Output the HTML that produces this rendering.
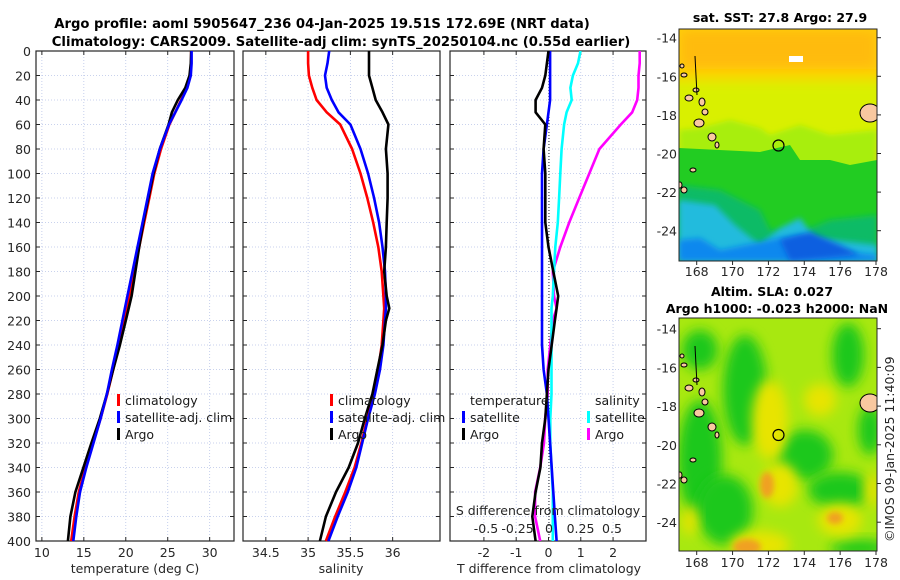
<!DOCTYPE html>
<html><head><meta charset="utf-8">
<style>
body{margin:0;background:#fff;}
svg{display:block;font-family:"DejaVu Sans","Liberation Sans",sans-serif;}
</style></head>
<body>
<svg id="fig" width="900" height="580" viewBox="0 0 900 580" xmlns="http://www.w3.org/2000/svg">
<defs>
<filter id="blur6" x="-50%" y="-50%" width="200%" height="200%"><feGaussianBlur stdDeviation="6"/></filter>
<filter id="blur3" x="-50%" y="-50%" width="200%" height="200%"><feGaussianBlur stdDeviation="3"/></filter>
<clipPath id="m1clip"><rect x="679" y="29" width="198" height="232"/></clipPath>
<clipPath id="m2clip"><rect x="679" y="318" width="198" height="233"/></clipPath>
<clipPath id="p3clip"><rect x="450" y="51" width="196" height="490"/></clipPath>
</defs>
<text x="322" y="28" font-size="13.2" font-weight="bold" text-anchor="middle">Argo profile: aoml 5905647_236 04-Jan-2025 19.51S 172.69E (NRT data)</text>
<text x="341" y="46" font-size="13.2" font-weight="bold" text-anchor="middle">Climatology: CARS2009. Satellite-adj clim: synTS_20250104.nc (0.55d earlier)</text>
<g id="panels"></g>
<g id="maps"></g>
</svg>
<script>
// ---- data ----
const depths = [0,10,20,30,40,50,60,80,100,120,140,160,180,200,210,220,240,260,280,300,320,340,360,380,400];
const tClim  = [27.8,27.8,27.7,27.3,26.6,25.9,25.2,24.2,23.4,22.8,22.2,21.6,21.0,20.4,20.1,19.8,19.2,18.5,17.8,17.0,16.1,15.2,14.4,13.9,13.5];
const tSat   = [27.85,27.85,27.75,27.35,26.65,25.9,25.15,24.05,23.2,22.6,22.0,21.4,20.8,20.2,19.9,19.6,19.0,18.35,17.75,17.0,16.15,15.3,14.55,14.1,13.75];
const tArgo  = [27.8,27.75,27.6,27.1,26.2,25.5,25.1,24.05,23.3,22.7,22.1,21.6,21.15,20.7,20.35,20.0,19.3,18.5,17.75,16.9,15.9,14.95,14.0,13.4,13.1];
const sClim  = [35.00,35.00,35.01,35.05,35.10,35.22,35.38,35.52,35.62,35.70,35.77,35.83,35.87,35.89,35.90,35.89,35.87,35.83,35.77,35.70,35.63,35.55,35.44,35.32,35.21];
const sSat   = [35.25,35.23,35.20,35.22,35.28,35.36,35.50,35.62,35.71,35.78,35.84,35.88,35.91,35.92,35.92,35.91,35.89,35.85,35.79,35.71,35.64,35.57,35.47,35.35,35.24];
const sArgo  = [35.72,35.72,35.72,35.76,35.80,35.88,35.95,35.92,35.94,35.94,35.93,35.92,35.90,35.93,35.96,35.92,35.88,35.82,35.76,35.67,35.59,35.48,35.33,35.21,35.14];
const depthTicks = [0,20,40,60,80,100,120,140,160,180,200,220,240,260,280,300,320,340,360,380,400];
const tTicks = [10,15,20,25,30];
const sTicks = [34.5,35,35.5,36];
const tdTicks = [-2,-1,0,1,2];
const sdTicks = [-0.5,-0.25,0,0.25,0.5];
const sdTickLabels = ["-0.5","-0.25","0","0.25","0.5"];
const lonTicks = [168,170,172,174,176,178];
const latTicks = [-14,-16,-18,-20,-22,-24];

const NS="http://www.w3.org/2000/svg";
const fig=document.getElementById('panels');
function el(tag,attrs,parent){const e=document.createElementNS(NS,tag);for(const k in attrs)e.setAttribute(k,attrs[k]);(parent||fig).appendChild(e);return e;}
function txt(x,y,s,attrs,parent){const e=el('text',Object.assign({x:x,y:y,'font-size':12.5,fill:'#262626'},attrs||{}),parent);e.textContent=s;return e;}

const Y0=51,Y1=541;
const yD=d=>Y0+(d/400)*(Y1-Y0);
const panels=[
 {x0:36,x1:234,min:9.3,max:32.9,name:'temperature'},
 {x0:243,x1:440,min:34.23,max:36.56,name:'salinity'},
 {x0:450,x1:646,min:-3.05,max:3.02,name:'difference'}
];
function xf(p,v){return p.x0+(v-p.min)/(p.max-p.min)*(p.x1-p.x0);}
const sdScale=v=>549+v*126;

function gridAndFrame(p,ticks,name){
  const g=el('g',{});
  
  
  depthTicks.forEach(d=>{el('line',{x1:p.x0,x2:p.x1,y1:yD(d),y2:yD(d),stroke:'#b8c4e8','stroke-width':0.8,'stroke-dasharray':'1,2'},g);});
  ticks.forEach(t=>{el('line',{x1:xf(p,t),x2:xf(p,t),y1:Y0,y2:Y1,stroke:'#b8c4e8','stroke-width':0.8,'stroke-dasharray':'1,2'},g);
    el('line',{x1:xf(p,t),x2:xf(p,t),y1:Y1,y2:Y1-4,stroke:'#262626'},g);el('line',{x1:xf(p,t),x2:xf(p,t),y1:Y0,y2:Y0+4,stroke:'#262626'},g);});
  depthTicks.forEach(d=>{el('line',{x1:p.x0,x2:p.x0+4,y1:yD(d),y2:yD(d),stroke:'#262626'},g);el('line',{x1:p.x1,x2:p.x1-4,y1:yD(d),y2:yD(d),stroke:'#262626'},g);});
  el('rect',{x:p.x0,y:Y0,width:p.x1-p.x0,height:Y1-Y0,fill:'none',stroke:'#262626','stroke-width':1.2},g);
  return g;
}
function pline(pts,color,name,w,clip){
  const e=el('polyline',{points:pts.map(p=>p[0].toFixed(1)+','+p[1].toFixed(1)).join(' '),fill:'none',stroke:color,'stroke-width':w||2.6,'stroke-linejoin':'round'});
  if(clip)e.setAttribute('clip-path','url(#p3clip)');
  
  
  return e;
}
// Panel 1
const p1=panels[0];
gridAndFrame(p1,tTicks,'temperature');
depthTicks.forEach(d=>txt(31,yD(d)+5,String(d),{'text-anchor':'end'}));
tTicks.forEach(t=>txt(xf(p1,t),557,String(t),{'text-anchor':'middle'}));
txt(135,573,'temperature (deg C)',{'text-anchor':'middle'});
pline(depths.map((d,i)=>[xf(p1,tClim[i]),yD(d)]),'#ff0000','temperature-climatology-line');
pline(depths.map((d,i)=>[xf(p1,tArgo[i]),yD(d)]),'#000000','temperature-argo-line');
pline(depths.map((d,i)=>[xf(p1,tSat[i]),yD(d)]),'#0000ff','temperature-satellite-line');
// Panel 2
const p2=panels[1];
gridAndFrame(p2,sTicks,'salinity');
sTicks.forEach(t=>txt(xf(p2,t),557,String(t),{'text-anchor':'middle'}));
txt(341,573,'salinity',{'text-anchor':'middle'});
pline(depths.map((d,i)=>[xf(p2,sClim[i]),yD(d)]),'#ff0000','salinity-climatology-line');
pline(depths.map((d,i)=>[xf(p2,sSat[i]),yD(d)]),'#0000ff','salinity-satellite-line');
pline(depths.map((d,i)=>[xf(p2,sArgo[i]),yD(d)]),'#000000','salinity-argo-line');
// Panel 3
const p3=panels[2];
gridAndFrame(p3,tdTicks,'difference');
el('line',{x1:549,x2:549,y1:Y0,y2:Y1,stroke:'#333','stroke-width':1,'stroke-dasharray':'1,2'});
tdTicks.forEach(t=>txt(xf(p3,t),557,String(t),{'text-anchor':'middle'}));
txt(549,573,'T difference from climatology',{'text-anchor':'middle'});
pline(depths.map((d,i)=>[sdScale(sArgo[i]-sClim[i]),yD(d)]),'#ff00ff','salinity-argo-diff-line',2.6,true);
pline(depths.map((d,i)=>[sdScale(sSat[i]-sClim[i]),yD(d)]),'#00ffff','salinity-satellite-diff-line',2.6,true);
pline(depths.map((d,i)=>[xf(p3,tSat[i]-tClim[i]),yD(d)]),'#0000ff','temperature-satellite-diff-line',2.6,true);
pline(depths.map((d,i)=>[xf(p3,tArgo[i]-tClim[i]),yD(d)]),'#000000','temperature-argo-diff-line',2.6,true);
txt(548,515,'S difference from climatology',{'text-anchor':'middle'});
sdTicks.forEach((t,i)=>txt(sdScale(t),533,sdTickLabels[i],{'text-anchor':'middle'}));

// Legends
function legend(x,y,items,name){
  const g=el('g',{});
  
  
  items.forEach((it,i)=>{
    if(it[1]) el('rect',{x:x,y:y+i*17-11,width:3,height:12,fill:it[1]},g);
    txt(x+(it[1]?8:0),y+i*17,it[0],{fill:'#1a1a1a'},g);
  });
}
legend(117,405,[['climatology','#ff0000'],['satellite-adj. clim','#0000ff'],['Argo','#000000']],'temperature-legend');
legend(330,405,[['climatology','#ff0000'],['satellite-adj. clim','#0000ff'],['Argo','#000000']],'salinity-legend');
legend(470,405,[['temperature',null]],'diff-legend-temp-title');
legend(462,422,[['satellite','#0000ff'],['Argo','#000000']],'diff-legend-temp');
legend(595,405,[['salinity',null]],'diff-legend-sal-title');
legend(587,422,[['satellite','#00ffff'],['Argo','#ff00ff']],'diff-legend-sal');

// ---- maps ----
const mg=document.getElementById('maps');
function mel(tag,attrs,parent){return el(tag,attrs,parent||mg);}
const lonX=l=>696.7+(l-168)*17.93;
function mapAxes(top,latY,name){
  const g=mel('g',{});
  
  
  lonTicks.forEach(l=>{txt(lonX(l),top===29?276:567,String(l),{'text-anchor':'middle'},g);
    const yb=top===29?261:551;
    el('line',{x1:lonX(l),x2:lonX(l),y1:yb,y2:yb+4,stroke:'#262626'},g);});
  latTicks.forEach(la=>{txt(677,latY(la)+5,String(la),{'text-anchor':'end'},g);
    el('line',{x1:877,x2:881,y1:latY(la),y2:latY(la),stroke:'#262626'},g);});
}
const islands=[[682,66,2,2],[684,75,3,2],[696,90,3,2],[689,98,4,3],[702,102,3,4],[705,112,3,3],[699,123,5,4],[712,137,4,4],[717,145,2,3],[693,170,3,2],[680,185,2,3],[684,190,3,3],[870,113,10,9]];
function drawIslands(g,dy){
  islands.forEach(c=>el('ellipse',{cx:c[0],cy:c[1]+dy,rx:c[2],ry:c[3],fill:'#f8c8a0',stroke:'#000','stroke-width':1},g));
  el('line',{x1:695,y1:56+dy,x2:697,y2:95+dy,stroke:'#000','stroke-width':1},g);
}
// Map 1 SST
const lat1=la=>37.7+(-14-la)*19.3;
const m1=mel('g',{'clip-path':'url(#m1clip)'});


el('rect',{x:679,y:29,width:198,height:232,fill:'#ffd400'},m1);
el('rect',{x:679,y:29,width:198,height:40,fill:'#ffbb10',filter:'url(#blur6)'},m1);
el('polygon',{points:'660,80 900,80 900,150 660,150',fill:'#d9f000',filter:'url(#blur6)'},m1);
el('polygon',{points:'679,130 700,128 730,120 760,128 770,135 800,125 830,135 877,130 877,200 679,200',fill:'#a8ee10',filter:'url(#blur3)'},m1);
el('polygon',{points:'679,148 760,152 790,145 800,160 830,160 850,165 877,160 877,261 679,261',fill:'#22cc22'},m1);
el('polygon',{points:'679,185 720,190 740,200 760,210 770,230 800,232 830,220 877,215 877,261 679,261',fill:'#10bb66',filter:'url(#blur3)'},m1);
el('polygon',{points:'679,200 715,205 735,225 760,245 780,228 800,218 815,238 877,245 877,261 679,261',fill:'#22bbdd',filter:'url(#blur3)'},m1);
el('polygon',{points:'679,240 700,238 720,250 780,238 800,235 830,250 877,255 877,261 679,261',fill:'#1188ee',filter:'url(#blur3)'},m1);
el('polygon',{points:'780,240 810,232 840,245 860,255 790,261',fill:'#0a5fe0',filter:'url(#blur3)'},m1);
el('rect',{x:789,y:56,width:14,height:6,fill:'#fff'},m1);
drawIslands(m1,0);
el('circle',{cx:778.5,cy:145.5,r:5.5,fill:'none',stroke:'#000','stroke-width':1.2},m1);
el('rect',{x:679,y:29,width:198,height:232,fill:'none',stroke:'#262626','stroke-width':1},mg);
txt(780,22,'sat. SST: 27.8 Argo: 27.9',{'text-anchor':'middle','font-weight':'bold',fill:'#000'});
mapAxes(29,lat1,'sst-map');
// Map 2 SLA
const lat2=la=>328.7+(-14-la)*19.35;
const m2=mel('g',{'clip-path':'url(#m2clip)'});


el('rect',{x:679,y:318,width:198,height:233,fill:'#a8e810'},m2);
const greens=[[745,390,22,55],[700,460,22,60],[725,510,28,35],[805,455,28,25],[840,490,32,18],[848,355,16,32],[700,350,18,20],[860,548,30,8],[870,430,12,25]];
greens.forEach(c=>el('ellipse',{cx:c[0],cy:c[1],rx:c[2],ry:c[3],fill:'#1ec81e',filter:'url(#blur6)'},m2));
const yel=[[770,420,18,40],[820,400,16,16],[780,485,18,22],[840,520,22,16],[760,545,30,14],[872,490,8,18],[690,520,8,15]];
yel.forEach(c=>el('ellipse',{cx:c[0],cy:c[1],rx:c[2],ry:c[3],fill:'#e8e400',filter:'url(#blur6)'},m2));
[[767,485,7,13],[747,547,14,8],[835,518,8,6]].forEach(c=>el('ellipse',{cx:c[0],cy:c[1],rx:c[2],ry:c[3],fill:'#f0a020',filter:'url(#blur3)'},m2));
drawIslands(m2,290);
el('circle',{cx:778.5,cy:435,r:5.5,fill:'none',stroke:'#000','stroke-width':1.2},m2);
el('rect',{x:679,y:318,width:198,height:233,fill:'none',stroke:'#262626','stroke-width':1},mg);
txt(772,296,'Altim. SLA: 0.027',{'text-anchor':'middle','font-weight':'bold',fill:'#000'});
txt(777,313,'Argo h1000: -0.023 h2000: NaN',{'text-anchor':'middle','font-weight':'bold',fill:'#000'});
mapAxes(318,lat2,'sla-map');
const cr=txt(0,0,'©IMOS 09-Jan-2025 11:40:09',{transform:'translate(894,542) rotate(-90)'});


</script>
</body></html>
